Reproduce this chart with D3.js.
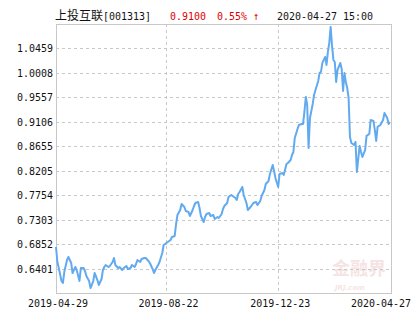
<!DOCTYPE html>
<html>
<head>
<meta charset="utf-8">
<script src="https://cdn.jsdelivr.net/npm/d3@7"></script>
<style>
  body { margin: 0; background: #fff; }
  .mono { font-family: "DejaVu Sans Mono", "Liberation Mono", monospace; font-size: 11px; }
</style>
</head>
<body>
<div id="chart"></div>
<script>
// header texts
const fundName = "上投互联";
const fundCode = "[001313]";
const lastNav = "0.9100";
const lastChange = "0.55% ↑";
const lastTime = "2020-04-27 15:00";

// axis ticks
const yTicks = [0.6401, 0.6852, 0.7303, 0.7754, 0.8205, 0.8655, 0.9106, 0.9557, 1.0008, 1.0459];
const yDomain = [0.5950, 1.0910];
const xTickDays = [0, 80, 161, 242];
const xTickLabels = ["2019-04-29", "2019-08-22", "2019-12-23", "2020-04-27"];

// trading-day index and unit nav
const days = [0,1,2,4,5,6,7,8,9,11,12,14,15,17,18,20,21,22,24,25,27,28,30,31,33,34,35,36,38,39,
  41,42,43,45,46,48,49,51,52,54,55,57,58,59,61,62,64,65,67,68,70,71,72,74,75,77,78,80,81,83,
  84,86,87,88,90,91,93,94,96,97,99,100,101,103,104,105,107,108,109,111,112,114,115,117,118,120,121,122,124,125,
  127,128,130,131,132,133,135,136,138,139,141,143,145,146,148,149,151,152,154,155,157,158,159,161,162,164,165,167,168,170,
  171,172,173,175,176,178,179,180,181,182,183,184,186,187,188,190,191,192,193,195,196,197,198,199,200,201,202,203,204,206,
  207,208,209,210,211,212,213,214,216,217,218,220,221,222,224,225,227,228,230,231,232,233,235,237,238,240,241,242];
const navs = [0.6798,0.6521,0.6411,0.6171,0.6134,0.6337,0.6448,0.6558,0.6614,0.6503,0.6319,0.6429,0.6374,0.6171,0.6411,0.6411,0.6355,0.6263,0.6171,0.6042,
  0.6171,0.6319,0.6189,0.6097,0.6208,0.6374,0.6429,0.6466,0.6429,0.6448,0.6521,0.6595,0.6466,0.6411,0.6429,0.6374,0.6411,0.6448,0.6392,0.6411,
  0.6466,0.6429,0.6485,0.6558,0.6521,0.6577,0.6595,0.6595,0.6540,0.6503,0.6392,0.6319,0.6374,0.6466,0.6521,0.6687,0.6835,0.6872,0.6890,0.6927,
  0.6983,0.7001,0.7222,0.7388,0.7481,0.7591,0.7536,0.7462,0.7444,0.7370,0.7481,0.7554,0.7610,0.7628,0.7517,0.7370,0.7259,0.7351,0.7407,0.7425,
  0.7370,0.7388,0.7315,0.7351,0.7333,0.7407,0.7499,0.7554,0.7610,0.7720,0.7757,0.7739,0.7702,0.7665,0.7776,0.7813,0.7905,0.7757,0.7610,0.7481,
  0.7536,0.7610,0.7628,0.7573,0.7647,0.7739,0.7849,0.7960,0.8015,0.8145,0.8311,0.8200,0.8071,0.7905,0.8145,0.8163,0.8126,0.8329,0.8348,0.8403,
  0.8495,0.8550,0.8809,0.8975,0.9048,0.9067,0.9067,0.9288,0.9565,0.9417,0.8624,0.9178,0.9436,0.9602,0.9694,0.9860,1.0008,1.0026,1.0192,1.0303,
  1.0155,1.0395,1.0561,1.0856,1.0506,1.0247,1.0210,0.9842,1.0063,1.0192,1.0081,0.9676,1.0008,0.9842,0.9731,0.9546,0.8827,0.8716,0.8680,0.8735,
  0.8181,0.8661,0.8550,0.8458,0.8587,0.8846,0.8882,0.9141,0.9122,0.8956,0.8753,0.9012,0.9048,0.9141,0.9270,0.9178,0.9067,0.9100];

const width = 415, height = 330;
const margin = { top: 24, right: 23, bottom: 37, left: 56 };

const svg = d3.select("#chart").append("svg")
    .attr("width", width)
    .attr("height", height);

const x = d3.scaleLinear().domain([0, 242]).range([margin.left, width - margin.right - 2]);
const y = d3.scaleLinear().domain(yDomain).range([height - margin.bottom, margin.top]);

// monospaced text squeezed to 6px per character, like the bitmap font
function mono(sel, str) {
    sel.attr("class", "mono").text(str)
        .attr("textLength", str.length * 6)
        .attr("lengthAdjust", "spacingAndGlyphs");
    return sel;
}

// watermark
const wm = svg.append("g").attr("opacity", 0.5);
wm.append("text").attr("x", 332).attr("y", 275)
    .attr("font-family", "Noto Sans CJK SC").attr("font-weight", "bold")
    .attr("font-size", 18).attr("fill", "#efcaca").text("金融界");
wm.append("text").attr("x", 335).attr("y", 290)
    .attr("font-family", "DejaVu Sans").attr("font-style", "italic").attr("font-weight", "bold")
    .attr("font-size", 7).attr("fill", "#efcaca").text("JRJ.com");

// grid
const gx0 = margin.left, gx1 = width - margin.right;
svg.append("g").selectAll("line")
    .data(yTicks).enter().append("line")
    .attr("x1", gx0).attr("x2", gx1)
    .attr("y1", d => Math.round(y(d)) + 0.5).attr("y2", d => Math.round(y(d)) + 0.5)
    .attr("stroke", "#c8c8c8").attr("stroke-dasharray", "3,3");

svg.append("g").selectAll("line")
    .data(xTickDays.slice(1, -1)).enter().append("line")
    .attr("x1", d => Math.round(x(d)) + 0.5).attr("x2", d => Math.round(x(d)) + 0.5)
    .attr("y1", margin.top).attr("y2", height - margin.bottom)
    .attr("stroke", "#c8c8c8").attr("stroke-dasharray", "3,3");

// frame
svg.append("rect")
    .attr("x", gx0 + 0.5).attr("y", margin.top + 0.5)
    .attr("width", gx1 - gx0 - 1).attr("height", height - margin.bottom - margin.top)
    .attr("fill", "none").attr("stroke", "#c8c8c8");

// line
const line = d3.line().x((d, i) => x(days[i])).y(d => y(d));
svg.append("path")
    .datum(navs)
    .attr("fill", "none")
    .attr("stroke", "#62aaf0")
    .attr("stroke-width", 2)
    .attr("stroke-linejoin", "round")
    .attr("d", line);

// y labels (right edge at x=53)
svg.append("g").selectAll("text")
    .data(yTicks).enter().append("text")
    .each(function (d) { mono(d3.select(this), d.toFixed(4)); })
    .attr("x", d => 53 - d.toFixed(4).length * 6).attr("y", d => y(d) + 4)
    .attr("fill", "#111");

// x labels, centred on ticks; last one kept inside the picture
svg.append("g").selectAll("text")
    .data(xTickDays).enter().append("text")
    .each(function (d, i) { mono(d3.select(this), xTickLabels[i]); })
    .attr("x", (d, i) => {
        const w = xTickLabels[i].length * 6;
        return Math.min(x(d) + 2 - w / 2, width - 4 - w);
    })
    .attr("y", 307)
    .style("font-size", (d, i) => i === xTickDays.length - 1 ? "10.4px" : null)
    .attr("fill", "#111");

// header
svg.append("text").attr("x", 55).attr("y", 20)
    .attr("font-family", "Noto Sans CJK SC").attr("font-size", 12).attr("fill", "#111")
    .text(fundName);
mono(svg.append("text"), fundCode).attr("x", 103).attr("y", 20).attr("fill", "#111");
mono(svg.append("text"), lastNav).attr("x", 170).attr("y", 20).attr("fill", "#e00000");
mono(svg.append("text"), lastChange).attr("x", 217).attr("y", 20).attr("fill", "#e00000");
mono(svg.append("text"), lastTime).attr("x", 277).attr("y", 20).attr("fill", "#111");
</script>
</body>
</html>
